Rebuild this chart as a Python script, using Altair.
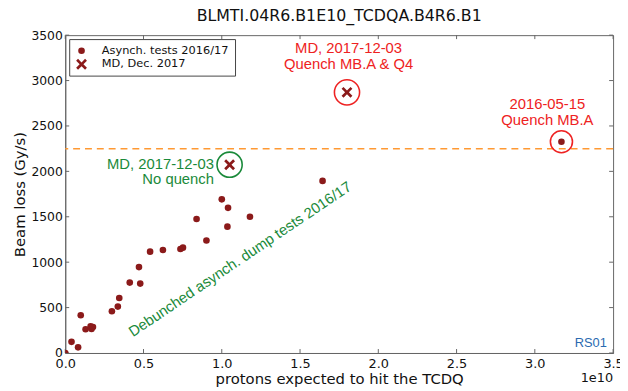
import altair as alt
import pandas as pd

# Data (x in units of 1e10 protons)
async_x = [0.0, 0.04, 0.082, 0.099, 0.13, 0.162, 0.168, 0.177, 0.298, 0.336, 0.345,
           0.412, 0.471, 0.479, 0.542, 0.624, 0.736, 0.752, 0.839, 0.902, 1.0,
           1.04, 1.036, 1.18, 1.644, 3.17]
async_y = [0, 123, 62, 416, 261, 293, 264, 286, 460, 511, 605,
           775, 946, 764, 1116, 1134, 1145, 1160, 1475, 1239, 1692,
           1598, 1391, 1500, 1895, 2326]
md_x = [1.05, 1.80]
md_y = [2073, 2870]
threshold = 2250
x_ticks = [0, 0.5, 1.0, 1.5, 2.0, 2.5, 3.0, 3.5]
y_ticks = [0, 500, 1000, 1500, 2000, 2500, 3000, 3500]

series_names = ["Asynch. tests 2016/17", "MD, Dec. 2017"]
DARKRED = "#8b1a1a"
RED = "#ee2222"
GREEN = "#1a8a3a"
XPATH = "M-1,-0.65L-0.65,-1L0,-0.35L0.65,-1L1,-0.65L0.35,0L1,0.65L0.65,1L0,0.35L-0.65,1L-1,0.65L-0.35,0Z"

pts = pd.DataFrame({
    "x": async_x + md_x,
    "y": async_y + md_y,
    "series": [series_names[0]] * len(async_x) + [series_names[1]] * len(md_x),
})

xscale = alt.Scale(domain=[0, 3.5], nice=False, zero=False)
yscale = alt.Scale(domain=[0, 3500], nice=False, zero=False)
xq = lambda: alt.X("x:Q", scale=xscale)
yq = lambda: alt.Y("y:Q", scale=yscale)

X = alt.X("x:Q", scale=xscale, title="protons expected to hit the TCDQ",
          axis=alt.Axis(values=x_ticks, format=".1f", grid=False, ticks=False,
                        labelFlush=False, labelOverlap=False,
                        labelFontSize=13, titleFontSize=15, titlePadding=1, labelPadding=5))
Y = alt.Y("y:Q", scale=yscale, title="Beam loss (Gy/s)",
          axis=alt.Axis(values=y_ticks, format="d", grid=False, ticks=False,
                        labelFlush=False, labelOverlap=False,
                        labelFontSize=12.5, titleFontSize=15, titlePadding=3, labelPadding=3))

points = alt.Chart(pts).mark_point(filled=True, opacity=1, clip=True).encode(
    x=X, y=Y,
    shape=alt.Shape("series:N", scale=alt.Scale(domain=series_names, range=["circle", XPATH]),
                    legend=alt.Legend(orient="top-left", title=None)),
    size=alt.Size("series:N", scale=alt.Scale(domain=series_names, range=[45, 120])),
    color=alt.Color("series:N", scale=alt.Scale(domain=series_names, range=[DARKRED, DARKRED])),
)

thr = alt.Chart(pd.DataFrame({"y": [threshold]})).mark_rule(
    color="#ff9933", strokeDash=[7, 5], strokeWidth=1.5).encode(y=yq())

# inward tick marks on all four sides
xt = pd.DataFrame({"x": x_ticks})
yt = pd.DataFrame({"y": y_ticks})
tick_style = dict(color="#666", strokeWidth=1)
xt_bot = alt.Chart(xt).mark_rule(**tick_style).encode(x=xq(), y=alt.value(318), y2=alt.value(322))
xt_top = alt.Chart(xt).mark_rule(**tick_style).encode(x=xq(), y=alt.value(0), y2=alt.value(4))
yt_left = alt.Chart(yt).mark_rule(**tick_style).encode(y=yq(), x=alt.value(0), x2=alt.value(4))
yt_right = alt.Chart(yt).mark_rule(**tick_style).encode(y=yq(), x=alt.value(551), x2=alt.value(555))

# highlight circles
red_big = alt.Chart(pd.DataFrame({"x": [1.80], "y": [2870]})).mark_point(
    shape="circle", filled=False, strokeWidth=1.6, opacity=1, color=RED, size=650).encode(x=xq(), y=yq())
red_small = alt.Chart(pd.DataFrame({"x": [3.17], "y": [2326]})).mark_point(
    shape="circle", filled=False, strokeWidth=1.6, opacity=1, color=RED, size=500).encode(x=xq(), y=yq())
green_c = alt.Chart(pd.DataFrame({"x": [1.05], "y": [2073]})).mark_point(
    shape="circle", filled=False, strokeWidth=1.6, opacity=1, color=GREEN, size=650).encode(x=xq(), y=yq())

red_ann = pd.DataFrame({
    "x": [1.81, 1.81, 3.08, 3.08],
    "y": [3355, 3180, 2740, 2565],
    "t": ["MD, 2017-12-03", "Quench MB.A & Q4", "2016-05-15", "Quench MB.A"],
})
green_ann = pd.DataFrame({
    "x": [0.95, 0.95],
    "y": [2080, 1915],
    "t": ["MD, 2017-12-03", "No quench"],
})
ann_red = alt.Chart(red_ann).mark_text(fontSize=15, font="Liberation Sans", align="center",
                                       baseline="middle", color=RED).encode(x=xq(), y=yq(), text="t:N")
ann_green = alt.Chart(green_ann).mark_text(fontSize=15, font="Liberation Sans", align="right",
                                           baseline="middle", color=GREEN).encode(x=xq(), y=yq(), text="t:N")

rot = alt.Chart(pd.DataFrame({"x": [1.116], "y": [1033], "t": ["Debunched asynch. dump tests 2016/17"]})).mark_text(
    fontSize=15, font="Liberation Sans", angle=326, color=GREEN, align="center", baseline="middle").encode(
    x=xq(), y=yq(), text="t:N")

rs = alt.Chart(pd.DataFrame({"x": [3.46], "y": [110], "t": ["RS01"]})).mark_text(
    fontSize=13, font="Liberation Sans", color="#2a6ab0", align="right", baseline="middle").encode(
    x=xq(), y=yq(), text="t:N")

offs = alt.Chart(pd.DataFrame({"x": [3.5], "y": [0], "t": ["1e10"]})).mark_text(
    fontSize=13, font="DejaVu Sans", color="#111", align="right", baseline="top", dy=19).encode(
    x=xq(), y=yq(), text="t:N")

chart = alt.layer(thr, xt_bot, xt_top, yt_left, yt_right, red_big, red_small, green_c, points,
                  ann_red, ann_green, rot, rs, offs).properties(
    width=555, height=322,
    title=alt.Title("BLMTI.04R6.B1E10_TCDQA.B4R6.B1", fontSize=16, font="DejaVu Sans",
                    fontWeight="normal", color="#111", offset=5),
    autosize=alt.AutoSizeParams(type="none"),
    padding={"left": 58, "top": 25, "right": 7, "bottom": 36},
).configure_view(stroke="#666", strokeWidth=1).configure_axis(
    labelFont="DejaVu Sans", titleFont="DejaVu Sans", titleFontWeight="normal",
    labelColor="#111", titleColor="#111", domainColor="#666", tickColor="#666"
).configure_legend(
    strokeColor="#444", fillColor="white", padding=6, labelFontSize=11.5,
    offset=4, rowPadding=1, labelOffset=14, labelFont="DejaVu Sans", labelColor="#111"
)

chart.save("out.html", embed_options={"renderer": "svg", "actions": False})
